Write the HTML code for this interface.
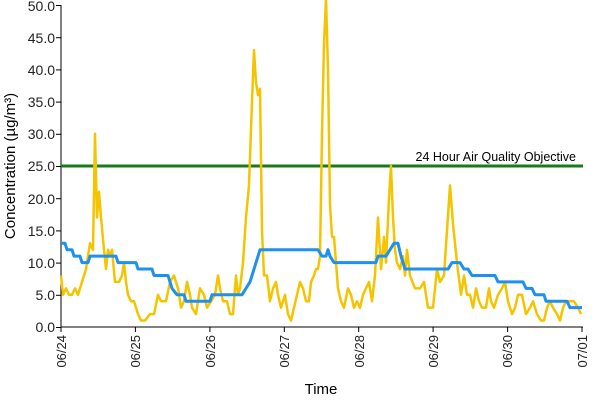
<!DOCTYPE html>
<html><head><meta charset="utf-8"><style>
html,body{margin:0;padding:0;background:#fff;}
svg{display:block;font-family:"Liberation Sans",sans-serif;}
</style></head><body>
<svg width="600" height="400" xmlns="http://www.w3.org/2000/svg">
<g font-size="14" fill="#222" text-anchor="end">
<text x="55" y="332">0.0</text><text x="55" y="300">5.0</text><text x="55" y="268">10.0</text><text x="55" y="236">15.0</text><text x="55" y="204">20.0</text><text x="55" y="171">25.0</text><text x="55" y="139">30.0</text><text x="55" y="107">35.0</text><text x="55" y="75">40.0</text><text x="55" y="43">45.0</text><text x="55" y="11">50.0</text>
</g>
<text transform="translate(15,166) rotate(-90)" font-size="15" text-anchor="middle" fill="#000">Concentration (µg/m³)</text>
<text x="321" y="394" font-size="15" text-anchor="middle" fill="#000">Time</text>
<g font-size="13" fill="#222" text-anchor="end">
<text transform="translate(66,335) rotate(-90)">06/24</text>
<text transform="translate(140,335) rotate(-90)">06/25</text>
<text transform="translate(215,335) rotate(-90)">06/26</text>
<text transform="translate(289,335) rotate(-90)">06/27</text>
<text transform="translate(364,335) rotate(-90)">06/28</text>
<text transform="translate(438,335) rotate(-90)">06/29</text>
<text transform="translate(512,335) rotate(-90)">06/30</text>
<text transform="translate(587,335) rotate(-90)">07/01</text>
</g>
<g stroke="#000" stroke-width="1">
<line x1="61" y1="5" x2="61" y2="327"/><line x1="61" y1="327" x2="583" y2="327"/>
<line x1="56" y1="327.5" x2="61" y2="327.5"/><line x1="56" y1="295.3" x2="61" y2="295.3"/><line x1="56" y1="263.1" x2="61" y2="263.1"/><line x1="56" y1="230.9" x2="61" y2="230.9"/><line x1="56" y1="198.7" x2="61" y2="198.7"/><line x1="56" y1="166.5" x2="61" y2="166.5"/><line x1="56" y1="134.3" x2="61" y2="134.3"/><line x1="56" y1="102.1" x2="61" y2="102.1"/><line x1="56" y1="69.9" x2="61" y2="69.9"/><line x1="56" y1="37.7" x2="61" y2="37.7"/><line x1="56" y1="5.5" x2="61" y2="5.5"/>
<line x1="61" y1="327" x2="61" y2="332"/><line x1="135.4" y1="327" x2="135.4" y2="332"/><line x1="209.9" y1="327" x2="209.9" y2="332"/><line x1="284.3" y1="327" x2="284.3" y2="332"/><line x1="358.7" y1="327" x2="358.7" y2="332"/><line x1="433.1" y1="327" x2="433.1" y2="332"/><line x1="507.6" y1="327" x2="507.6" y2="332"/><line x1="582" y1="327" x2="582" y2="332"/>
</g>
<line x1="61" y1="166" x2="583" y2="166" stroke="#1a7a1a" stroke-width="3"/>
<text x="576" y="161" font-size="12.5" text-anchor="end" fill="#000">24 Hour Air Quality Objective</text>
<g transform="translate(0,327) scale(1,-6.44)">
<polyline fill="none" stroke="#f5c400" stroke-width="2.5" stroke-linejoin="round" vector-effect="non-scaling-stroke" points="61,8 63,5 66,6 69,5 72,5 75,6 78,5 82,7 86,9 90,13 93,12 95,30 97,17 99,21 101,17 104,12 106,9 108,12 110,11 112,12 115,7 119,7 122,8 124,10 126,7 128,5 131,4 134,4 138,2 141,1 145,1 150,2 154,2 158,5 161,4 166,4 170,7 174,8 178,6 181,3 184,4 187,7 190,5 192,3 196,2 200,6 204,5 207,3 211,4 215,5 218,8 220,6 223,4 227,4 230,2 233,2 236,8 238,5 240,6 243,10 246,17 249,22 252,35 254,43 256,38 258,36 260,37 262,15 264,8 267,8 270,4 273,6 276,7 278,5 281,3 285,5 288,2 291,1 294,3 297,5 300,7 303,6 306,4 309,4 311,7 314,8 316,9 318,9 320,11 322,30 324,44 326,51 328,40 330,19 332,14 334,14 336,10 338,6 341,4 344,3 348,6 351,5 354,3 357,4 360,3 363,5 366,6 369,7 372,4 375,8 378,17 381,9 384,14 386,10 389,20 391,25 393,17 395,12 397,10 400,9 403,11 405,8 407,12 410,8 415,6 420,6 424,7 428,3 433,3 437,9 440,7 444,8 447,15 450,22 453,16 457,10 461,5 464,8 467,5 470,5 473,3 476,6 479,4 482,3 486,3 489,6 491,4 494,3 498,5 502,6 505,7 508,4 512,2 515,3 518,5 522,5 526,2 530,3 533,4 537,2 541,1 544,1 547,3 550,4 553,3 557,2 560,1 563,3 566,4 570,4 574,4 578,3 581,2"/>
<polyline fill="none" stroke="#1e90ee" stroke-width="3" stroke-linejoin="round" vector-effect="non-scaling-stroke" points="61,13 65,13 67,12 72,12 74,11 80,11 82,10 88,10 90,11 116,11 118,10 136,10 138,9 152,9 154,8 168,8 170,7 172,6 177,5 184,5 186,4 210,4 212,5 242,5 246,6 250,7 254,9 260,12 318,12 322,11 326,11 328,12 330,11 334,10 376,10 378,11 386,11 390,12 394,13 398,13 401,11 405,9 448,9 452,10 460,10 464,9 468,9 472,8 495,8 498,7 523,7 526,6 532,6 535,5 544,5 546,4 567,4 570,3 582,3"/>
</g>
</svg>
</body></html>
